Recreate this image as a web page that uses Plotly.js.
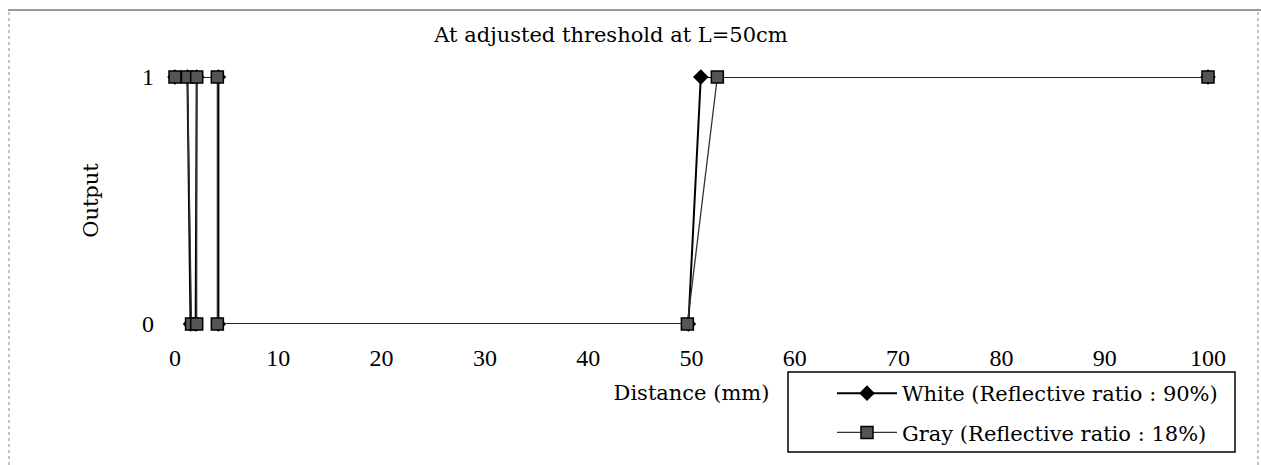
<!DOCTYPE html>
<html>
<head>
<meta charset="utf-8">
<script src="https://cdn.plot.ly/plotly-3.0.1.min.js"></script>
<style>
html,body{margin:0;padding:0;background:#fff;}
#chart{width:1261px;height:465px;}
</style>
</head>
<body>
<div id="chart"></div>
<script>
// Data
const whiteX = [0, 1.2, 1.5, 2.0, 2.1, 4.2, 4.2, 49.7, 50.9, 100];
const whiteY = [1, 1, 0, 0, 1, 1, 0, 0, 1, 1];
const grayX  = [0, 1.2, 1.6, 2.1, 2.1, 4.1, 4.1, 49.6, 52.5, 100];
const grayY  = [1, 1, 0, 0, 1, 1, 0, 0, 1, 1];
const xTicks = [0, 10, 20, 30, 40, 50, 60, 70, 80, 90, 100];
const yTicks = [0, 1];
const seriesNames = ["White (Reflective ratio : 90%)", "Gray (Reflective ratio : 18%)"];

// plot frame in pixels
const L = 175, R = 1208, T = 77, B = 324;
const px2x = p => (p - L) / (R - L);
const px2y = p => (B - p) / (B - T);

const serif = "DejaVu Serif, Liberation Serif, serif";
const tickFont = {family: "Liberation Serif, serif", size: 24, color: "#000"};

const traces = [
  {
    x: whiteX, y: whiteY, name: seriesNames[0], mode: "lines+markers",
    legendgroup: "a",
    line: {color: "#000", width: 2},
    marker: {symbol: "diamond", size: 12, color: "#000"},
    cliponaxis: false
  },
  {
    x: grayX, y: grayY, name: seriesNames[1], mode: "lines+markers",
    legendgroup: "b",
    line: {color: "#333", width: 1.3},
    marker: {symbol: "square", size: 12, color: "#555", line: {color: "#000", width: 1.5}},
    cliponaxis: false
  }
];

const layout = {
  width: 1261, height: 465,
  margin: {l: L, r: 1261 - R, t: T, b: 465 - B},
  paper_bgcolor: "#fff", plot_bgcolor: "#fff",
  showlegend: true,
  title: {
    text: "At adjusted threshold at L=50cm",
    font: {family: serif, size: 21, color: "#000"},
    xref: "container", x: 611 / 1261, xanchor: "center",
    yref: "container", y: 1 - 35 / 465, yanchor: "middle"
  },
  xaxis: {
    range: [0, 100], tickvals: xTicks, ticktext: xTicks.map(String),
    showgrid: false, zeroline: false, showline: false, ticks: "",
    tickfont: tickFont, ticklabelstandoff: 17,
    title: {text: "Distance (mm)", font: {family: serif, size: 21, color: "#000"}, standoff: 15},
    automargin: false
  },
  yaxis: {
    range: [0, 1], tickvals: yTicks, ticktext: yTicks.map(String),
    showgrid: false, zeroline: false, showline: false, ticks: "",
    tickfont: tickFont, ticklabelstandoff: 20,
    title: {text: "Output", font: {family: serif, size: 21, color: "#000"}, standoff: 37},
    automargin: false
  },
  legend: {
    x: px2x(832), xanchor: "left", y: px2y(373), yanchor: "top",
    bgcolor: "rgba(0,0,0,0)", borderwidth: 0,
    font: {family: serif, size: 21, color: "#000"},
    traceorder: "grouped", tracegroupgap: 9, itemwidth: 60
  },
  shapes: [
    // legend frame
    {type: "rect", xref: "paper", yref: "paper",
     x0: px2x(788), x1: px2x(1235), y0: px2y(372), y1: px2y(452),
     line: {color: "#000", width: 1.5}, fillcolor: "rgba(0,0,0,0)"},
    // outer page frame (top solid, sides dotted)
    {type: "line", xref: "paper", yref: "paper",
     x0: px2x(8), x1: px2x(1261), y0: px2y(10), y1: px2y(10),
     line: {color: "#333", width: 1.2}},
    {type: "line", xref: "paper", yref: "paper",
     x0: px2x(9), x1: px2x(9), y0: px2y(12), y1: px2y(465),
     line: {color: "#888", width: 1, dash: "dot"}},
    {type: "line", xref: "paper", yref: "paper",
     x0: px2x(1258), x1: px2x(1258), y0: px2y(12), y1: px2y(465),
     line: {color: "#888", width: 1, dash: "dot"}}
  ]
};

Plotly.newPlot("chart", traces, layout, {displayModeBar: false, staticPlot: true});
</script>
</body>
</html>
